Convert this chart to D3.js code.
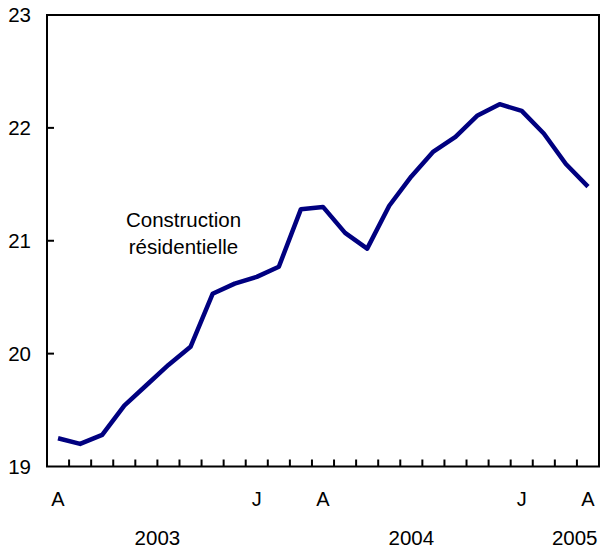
<!DOCTYPE html>
<html lang="en">
<head>
<meta charset="utf-8">
<title>Construction résidentielle</title>
<script src="https://d3js.org/d3.v7.min.js"></script>
<style>
body{margin:0;background:#fff;font-family:"Liberation Sans",Arial,Helvetica,sans-serif;}
</style>
</head>
<body>
<div id="chart"></div>
<script>
// monthly values, April 2003 to April 2005
var months = ["A","M","J","J","A","S","O","N","D","J","F","M","A","M","J","J","A","S","O","N","D","J","F","M","A"]
var values = [19.25,19.20,19.28,19.54,19.72,19.90,20.06,20.53,20.62,20.68,20.77,21.28,21.30,21.07,20.93,21.31,21.57,21.79,21.92,22.11,22.21,22.15,21.95,21.68,21.48]
var monthLabels = [{i:0,t:"A"},{i:9,t:"J"},{i:12,t:"A"},{i:21,t:"J"},{i:24,t:"A"}]
var years = [{x:5,t:"2003"},{x:16.5,t:"2004"},{x:23.9,t:"2005"}]
var yTicks = [19,20,21,22,23]

var w = 601, h = 550
var mLeft = 47, mRight = 599, mTop = 15, mBottom = 466.5

var svg = d3.select("#chart").append("svg").attr("width",w).attr("height",h)

var xBand = d3.scaleLinear().domain([0,months.length]).range([mLeft,mRight])
var yScale = d3.scaleLinear().domain([19,23]).range([mBottom,mTop])

// frame
svg.append("rect").attr("x",mLeft).attr("y",mTop)
    .attr("width",mRight-mLeft).attr("height",mBottom-mTop)
    .attr("fill","none").attr("stroke","#000").attr("stroke-width",2)

// y ticks inward
svg.selectAll(".yt").data(yTicks.slice(1,-1)).enter().append("line")
    .attr("x1",mLeft).attr("x2",mLeft+7)
    .attr("y1",function(d){return yScale(d)}).attr("y2",function(d){return yScale(d)})
    .attr("stroke","#000").attr("stroke-width",2)
svg.selectAll(".yl").data(yTicks).enter().append("text")
    .attr("x",31).attr("y",function(d){return yScale(d)+7})
    .attr("text-anchor","end").attr("font-size",20.5).text(function(d){return d})

// x ticks inward
svg.selectAll(".xt").data(d3.range(1,months.length)).enter().append("line")
    .attr("x1",function(d){return xBand(d)}).attr("x2",function(d){return xBand(d)})
    .attr("y1",mBottom).attr("y2",mBottom-7)
    .attr("stroke","#000").attr("stroke-width",2)

svg.selectAll(".ml").data(monthLabels).enter().append("text")
    .attr("x",function(d){return xBand(d.i+0.5)}).attr("y",506)
    .attr("text-anchor","middle").attr("font-size",20).text(function(d){return d.t})

svg.selectAll(".yr").data(years).enter().append("text")
    .attr("x",function(d){return xBand(d.x)}).attr("y",545)
    .attr("text-anchor","middle").attr("font-size",20.5).text(function(d){return d.t})

var line = d3.line()
    .x(function(d,i){return xBand(i+0.5)})
    .y(function(d){return yScale(d)})
svg.append("path").datum(values).attr("d",line)
    .attr("fill","none").attr("stroke","#000080").attr("stroke-width",4.5)
    .attr("stroke-linejoin","round")

var lbl = svg.append("text").attr("text-anchor","middle").attr("font-size",20.5)
lbl.append("tspan").attr("x",183.5).attr("y",227).text("Construction")
lbl.append("tspan").attr("x",183.5).attr("y",254).text("résidentielle")
</script>
</body>
</html>
